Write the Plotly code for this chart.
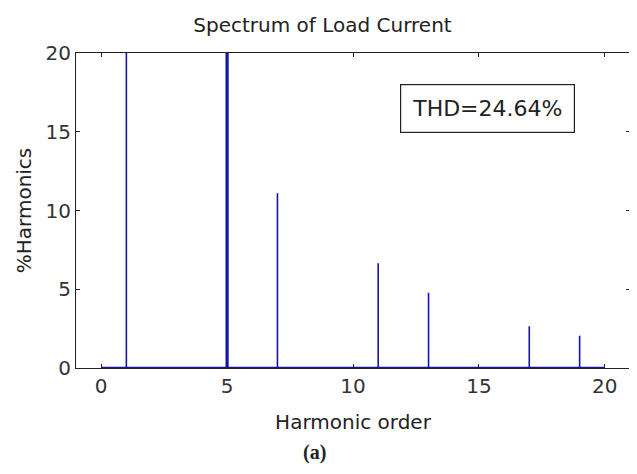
import plotly.graph_objects as go

# harmonic spectrum of the load current (% of fundamental)
harmonic_order = [1, 5, 7, 11, 13, 17, 19]
harmonic_pct = [100.0, 20.2, 11.1, 6.65, 4.78, 2.65, 2.05]
stem_width_px = [1.6, 3.2, 1.6, 1.6, 1.6, 1.6, 1.6]
baseline_x = [0, 20]
baseline_y = [0, 0]
x_ticks = [0, 5, 10, 15, 20]
y_ticks = [0, 5, 10, 15, 20]

BLUE = "#1414a8"
FONT = "DejaVu Sans"

fig = go.Figure()

# zero line of the stem plot
fig.add_trace(go.Scatter(
    x=baseline_x, y=baseline_y, mode="lines",
    line=dict(color=BLUE, width=2.6), hoverinfo="skip",
))

# one stem per harmonic
for h, v, w in zip(harmonic_order, harmonic_pct, stem_width_px):
    fig.add_trace(go.Scatter(
        x=[h, h], y=[0, v], mode="lines",
        line=dict(color=BLUE, width=w),
    ))

axis_common = dict(
    showgrid=False, zeroline=False, automargin=False,
    showline=True, linecolor="#222", linewidth=1.2, mirror="ticks",
    ticks="inside", ticklen=4, tickcolor="#222",
    tickfont=dict(family=FONT, size=20, color="#333"),
)

# the page body adds an 8px offset, so the figure is 8px smaller than the window
fig.update_layout(
    width=629, height=466,
    showlegend=False,
    paper_bgcolor="white", plot_bgcolor="white",
    margin=dict(l=68, r=7, t=45, b=106, autoexpand=False),
    title=dict(text="Spectrum of Load Current", x=0.5, xanchor="center",
               y=0.963, yanchor="middle", automargin=False,
               font=dict(family=FONT, size=20, color="#222")),
    xaxis=dict(range=[-1, 21], tickvals=x_ticks,
               title=dict(text="Harmonic order", standoff=17,
                          font=dict(family=FONT, size=20, color="#222")),
               **axis_common),
    yaxis=dict(range=[0, 20], tickvals=y_ticks,
               title=dict(text="%Harmonics", standoff=8,
                          font=dict(family=FONT, size=20, color="#222")),
               **axis_common),
)

fig.add_annotation(
    text="THD=24.64%", xref="paper", yref="paper",
    x=0.742, y=0.825, xanchor="center", yanchor="middle",
    showarrow=False, bordercolor="#222", borderwidth=1.2, borderpad=11,
    bgcolor="white", font=dict(family=FONT, size=22, color="#222"),
)

fig.add_annotation(
    text="<b>(a)</b>", xref="paper", yref="paper",
    x=0.431, y=-0.267, xanchor="center", yanchor="middle",
    showarrow=False, font=dict(family="Liberation Serif", size=20, color="#222"),
)

fig.write_html("out.html")
